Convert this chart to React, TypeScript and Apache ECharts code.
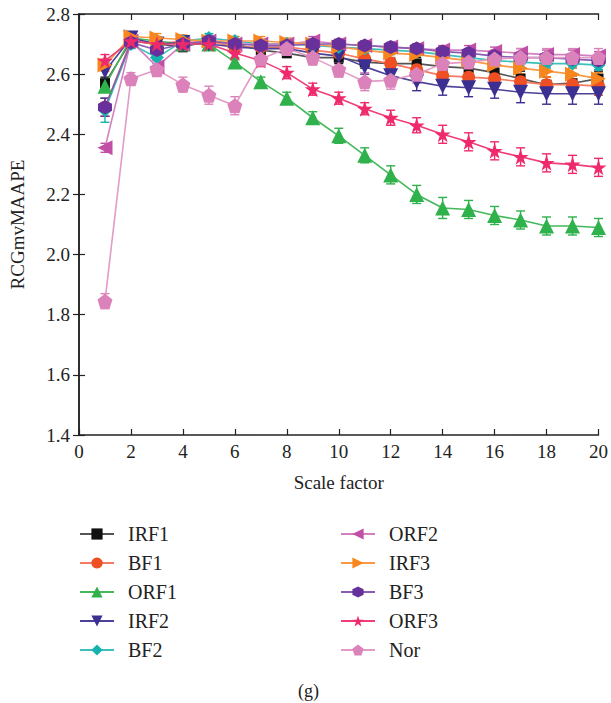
import React, { useEffect, useRef } from "react";
import * as echarts from "echarts";

const scaleFactors = [1, 2, 3, 4, 5, 6, 7, 8, 9, 10, 11, 12, 13, 14, 15, 16, 17, 18, 19, 20];
const xTicks = [0, 2, 4, 6, 8, 10, 12, 14, 16, 18, 20];
const yTicks = [1.4, 1.6, 1.8, 2.0, 2.2, 2.4, 2.6, 2.8];

const irf1 = [2.57, 2.71, 2.70, 2.69, 2.71, 2.70, 2.68, 2.67, 2.655, 2.655, 2.64, 2.635, 2.635, 2.625, 2.62, 2.605, 2.585, 2.565, 2.57, 2.585];
const bf1 = [2.49, 2.71, 2.70, 2.71, 2.71, 2.69, 2.69, 2.69, 2.68, 2.67, 2.65, 2.635, 2.615, 2.595, 2.59, 2.585, 2.575, 2.565, 2.565, 2.56];
const orf1 = [2.56, 2.72, 2.71, 2.70, 2.70, 2.64, 2.575, 2.52, 2.455, 2.395, 2.33, 2.265, 2.20, 2.155, 2.15, 2.13, 2.115, 2.095, 2.095, 2.09];
const irf2 = [2.61, 2.72, 2.70, 2.705, 2.70, 2.69, 2.685, 2.685, 2.67, 2.66, 2.625, 2.595, 2.575, 2.56, 2.555, 2.55, 2.54, 2.535, 2.535, 2.535];
const bf2 = [2.48, 2.70, 2.655, 2.71, 2.72, 2.71, 2.70, 2.70, 2.695, 2.69, 2.685, 2.68, 2.675, 2.665, 2.655, 2.645, 2.64, 2.635, 2.635, 2.63];
const orf2 = [2.355, 2.71, 2.625, 2.70, 2.71, 2.70, 2.70, 2.70, 2.71, 2.70, 2.695, 2.69, 2.685, 2.68, 2.68, 2.675, 2.67, 2.665, 2.665, 2.66];
const irf3 = [2.63, 2.725, 2.72, 2.715, 2.71, 2.71, 2.71, 2.705, 2.70, 2.69, 2.68, 2.67, 2.665, 2.655, 2.645, 2.63, 2.62, 2.61, 2.60, 2.585];
const bf3 = [2.49, 2.705, 2.68, 2.70, 2.71, 2.70, 2.695, 2.695, 2.70, 2.70, 2.695, 2.69, 2.685, 2.675, 2.67, 2.66, 2.655, 2.655, 2.65, 2.645];
const orf3 = [2.645, 2.71, 2.70, 2.70, 2.70, 2.67, 2.645, 2.605, 2.55, 2.52, 2.485, 2.455, 2.43, 2.40, 2.375, 2.345, 2.325, 2.305, 2.30, 2.29];
const nor = [1.845, 2.585, 2.615, 2.565, 2.53, 2.495, 2.65, 2.685, 2.655, 2.615, 2.575, 2.58, 2.60, 2.635, 2.64, 2.65, 2.655, 2.655, 2.655, 2.655];

const irf1Err = [0.02, 0.015, 0.015, 0.015, 0.015, 0.015, 0.015, 0.015, 0.015, 0.02, 0.02, 0.02, 0.02, 0.02, 0.02, 0.02, 0.025, 0.025, 0.025, 0.025];
const bf1Err = [0.03, 0.015, 0.015, 0.015, 0.015, 0.015, 0.015, 0.02, 0.02, 0.02, 0.02, 0.02, 0.025, 0.025, 0.025, 0.025, 0.025, 0.025, 0.03, 0.03];
const orf1Err = [0.02, 0.015, 0.015, 0.015, 0.015, 0.015, 0.015, 0.02, 0.02, 0.025, 0.025, 0.03, 0.03, 0.035, 0.03, 0.03, 0.03, 0.03, 0.03, 0.03];
const irf2Err = [0.03, 0.015, 0.015, 0.015, 0.015, 0.015, 0.015, 0.02, 0.02, 0.02, 0.025, 0.025, 0.03, 0.03, 0.03, 0.03, 0.035, 0.035, 0.035, 0.035];
const bf2Err = [0.04, 0.015, 0.02, 0.015, 0.015, 0.015, 0.015, 0.015, 0.015, 0.015, 0.015, 0.015, 0.015, 0.015, 0.015, 0.015, 0.015, 0.015, 0.015, 0.015];
const orf2Err = [0.015, 0.015, 0.02, 0.015, 0.015, 0.015, 0.015, 0.015, 0.015, 0.015, 0.015, 0.015, 0.015, 0.015, 0.015, 0.015, 0.015, 0.015, 0.015, 0.015];
const irf3Err = [0.02, 0.015, 0.015, 0.015, 0.015, 0.015, 0.015, 0.015, 0.015, 0.015, 0.015, 0.02, 0.02, 0.02, 0.02, 0.02, 0.02, 0.02, 0.02, 0.02];
const bf3Err = [0.03, 0.015, 0.02, 0.015, 0.015, 0.015, 0.015, 0.015, 0.015, 0.015, 0.015, 0.015, 0.015, 0.015, 0.015, 0.015, 0.015, 0.015, 0.015, 0.015];
const orf3Err = [0.02, 0.015, 0.015, 0.015, 0.015, 0.02, 0.02, 0.02, 0.02, 0.02, 0.02, 0.025, 0.025, 0.03, 0.03, 0.03, 0.03, 0.03, 0.03, 0.03];
const norErr = [0.025, 0.02, 0.02, 0.025, 0.03, 0.03, 0.02, 0.02, 0.025, 0.025, 0.03, 0.03, 0.03, 0.03, 0.03, 0.03, 0.03, 0.03, 0.03, 0.03];

const STAR = "path://M0,-1L0.2233,-0.3074L0.951,-0.309L0.3614,0.1174L0.5878,0.809L0,0.38L-0.5878,0.809L-0.3614,0.1174L-0.951,-0.309L-0.2233,-0.3074Z";
const PENTA = "path://M0,-1L0.951,-0.309L0.588,0.809L-0.588,0.809L-0.951,-0.309Z";
const HEXA = "path://M0,-1L0.866,-0.5L0.866,0.5L0,1L-0.866,0.5L-0.866,-0.5Z";

type Spec = { name: string; values: number[]; errs: number[]; marker: string; line: string; symbol: string; rotate: number; size: number };

const specs: Spec[] = [
  { name: "IRF1", values: irf1, errs: irf1Err, marker: "#111111", line: "#555555", symbol: "rect", rotate: 0, size: 10 },
  { name: "BF1", values: bf1, errs: bf1Err, marker: "#f04e23", line: "#f47a62", symbol: "circle", rotate: 0, size: 13 },
  { name: "ORF1", values: orf1, errs: orf1Err, marker: "#2fb14b", line: "#45b85a", symbol: "triangle", rotate: 0, size: 15 },
  { name: "IRF2", values: irf2, errs: irf2Err, marker: "#3b2f91", line: "#4c4199", symbol: "triangle", rotate: 180, size: 15 },
  { name: "BF2", values: bf2, errs: bf2Err, marker: "#15b3ac", line: "#3cc0ba", symbol: "diamond", rotate: 0, size: 14 },
  { name: "ORF2", values: orf2, errs: orf2Err, marker: "#c14fa6", line: "#d37fc0", symbol: "triangle", rotate: 90, size: 15 },
  { name: "IRF3", values: irf3, errs: irf3Err, marker: "#f7861e", line: "#f89a45", symbol: "triangle", rotate: -90, size: 15 },
  { name: "BF3", values: bf3, errs: bf3Err, marker: "#67309a", line: "#8a5bb3", symbol: HEXA, rotate: 0, size: 14 },
  { name: "ORF3", values: orf3, errs: orf3Err, marker: "#ee2a6c", line: "#ef3d77", symbol: STAR, rotate: 0, size: 16 },
  { name: "Nor", values: nor, errs: norErr, marker: "#dc82ba", line: "#e29bc7", symbol: PENTA, rotate: 0, size: 15 },
];

const FONT = "'Liberation Serif', 'DejaVu Serif', serif";

export default function App() {
  const ref = useRef<HTMLDivElement>(null);
  useEffect(() => {
    if (!ref.current) return;
    const chart = echarts.init(ref.current, null, { renderer: "svg" });
    const series: any[] = [];
    specs.forEach((s) => {
      const color = s.marker;
      series.push({
        type: "custom",
        name: s.name + " err",
        xAxisIndex: 0,
        yAxisIndex: 0,
        data: scaleFactors.map((x, i) => [x, s.values[i] - s.errs[i], s.values[i] + s.errs[i]]),
        encode: { x: 0, y: [1, 2] },
        z: 3,
        silent: true,
        renderItem: (params: any, api: any) => {
          const x = api.value(0);
          const top = api.coord([x, api.value(2)]);
          const bot = api.coord([x, api.value(1)]);
          const w = 4.5;
          const st = { stroke: color, lineWidth: 1.4 };
          return {
            type: "group",
            children: [
              { type: "line", shape: { x1: top[0], y1: top[1], x2: bot[0], y2: bot[1] }, style: st },
              { type: "line", shape: { x1: top[0] - w, y1: top[1], x2: top[0] + w, y2: top[1] }, style: st },
              { type: "line", shape: { x1: bot[0] - w, y1: bot[1], x2: bot[0] + w, y2: bot[1] }, style: st },
            ],
          };
        },
      });
      series.push({
        type: "line",
        name: s.name,
        data: scaleFactors.map((x, i) => [x, s.values[i]]),
        symbol: s.symbol,
        symbolSize: s.size,
        symbolRotate: s.rotate,
        showAllSymbol: true,
        lineStyle: { color: s.line, width: 1.6 },
        itemStyle: { color: s.marker, borderWidth: 0 },
        z: 4,
      });
    });

    const legendCommon = {
      orient: "vertical",
      itemWidth: 34,
      itemHeight: 14,
      itemGap: 9,
      textStyle: { fontFamily: FONT, fontSize: 20, color: "#222", lineHeight: 14, padding: [0, 0, 0, 9] },
    };

    chart.setOption({
      animation: false,
      backgroundColor: "#ffffff",
      textStyle: { fontFamily: FONT },
      grid: { left: 79, right: 9, top: 14, bottom: 268 },
      legend: [
        { ...legendCommon, left: 74, top: 519, data: specs.slice(0, 5).map((s) => s.name) },
        { ...legendCommon, left: 335, top: 519, data: specs.slice(5).map((s) => s.name) },
      ],
      title: {
        text: "(g)",
        left: 293,
        top: 677,
        textStyle: { fontFamily: FONT, fontSize: 18, fontWeight: "normal", color: "#222" },
      },
      xAxis: [
        {
          type: "value",
          min: xTicks[0],
          max: xTicks[xTicks.length - 1],
          interval: 2,
          name: "Scale factor",
          nameLocation: "middle",
          nameGap: 38,
          nameTextStyle: { fontFamily: FONT, fontSize: 19, color: "#222" },
          axisLine: { lineStyle: { color: "#222", width: 1.5 } },
          axisTick: { inside: true, length: 6, lineStyle: { color: "#222", width: 1.2 } },
          axisLabel: { fontFamily: FONT, fontSize: 19, color: "#222", margin: 7 },
          splitLine: { show: false },
        },
        {
          type: "value",
          position: "top",
          min: xTicks[0],
          max: xTicks[xTicks.length - 1],
          interval: 2,
          axisLine: { show: true, lineStyle: { color: "#222", width: 1.5 } },
          axisTick: { inside: true, length: 6, lineStyle: { color: "#222", width: 1.2 } },
          axisLabel: { show: false },
          splitLine: { show: false },
        },
      ],
      yAxis: [
        {
          type: "value",
          min: yTicks[0],
          max: yTicks[yTicks.length - 1],
          interval: 0.2,
          name: "RCGmvMAAPE",
          nameLocation: "middle",
          nameGap: 52,
          nameTextStyle: { fontFamily: FONT, fontSize: 19, color: "#222" },
          axisLine: { lineStyle: { color: "#222", width: 1.5 } },
          axisTick: { inside: true, length: 6, lineStyle: { color: "#222", width: 1.2 } },
          axisLabel: { fontFamily: FONT, fontSize: 19, color: "#222", margin: 9, formatter: (v: number) => v.toFixed(1) },
          splitLine: { show: false },
        },
        {
          type: "value",
          position: "right",
          min: yTicks[0],
          max: yTicks[yTicks.length - 1],
          interval: 0.2,
          axisLine: { show: true, lineStyle: { color: "#222", width: 1.5 } },
          axisTick: { inside: true, length: 6, lineStyle: { color: "#222", width: 1.2 } },
          axisLabel: { show: false },
          splitLine: { show: false },
        },
      ],
      series,
    });
    return () => chart.dispose();
  }, []);
  return <div ref={ref} style={{ width: 611, height: 703, position: "absolute", left: 0, top: 0 }} />;
}
